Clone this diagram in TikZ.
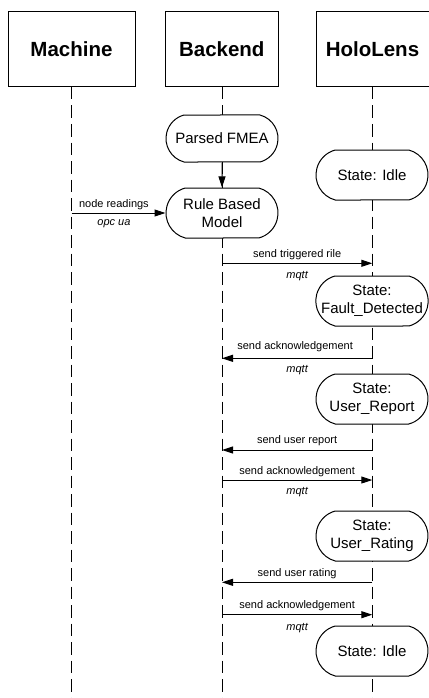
\documentclass[tikz,border=0pt]{standalone}
\usepackage{fontspec}
\setmainfont{Liberation Sans}
\usetikzlibrary{arrows.meta,shapes.misc}
\tikzset{
  hdr/.style={draw, line width=1pt, fill=white, minimum width=#1, minimum height=75pt, inner sep=0pt, font=\fontsize{20.5}{24}\selectfont\bfseries},
  st/.style={draw, line width=1pt, fill=white, rounded rectangle, rounded rectangle arc length=150, minimum width=112pt, minimum height=#1, inner sep=0pt, align=center, font=\fontsize{15}{18}\selectfont},
  life/.style={line width=1pt, dash pattern=on 12.5pt off 6pt},
  msg/.style={line width=1pt, -{Triangle[length=11pt,width=7pt]}},
  lbl/.style={font=\fontsize{11}{13}\selectfont, inner sep=0pt},
  lbli/.style={font=\fontsize{11}{13}\selectfont\itshape, inner sep=0pt}
}
\begin{document}
\begin{tikzpicture}[x=1pt,y=-1pt]
\useasboundingbox (0,0) rectangle (428,698);
% headers
\node[hdr=127pt] (mach) at (71.5,49.5) {Machine};
\node[hdr=113pt] (back) at (221.8,49.5) {Backend};
\node[hdr=118pt, anchor=west] (holo) at (315.7,49.5) {\hspace*{-5.5pt}HoloLens};
% lifeline ends
\coordinate (machEnd) at (71.7,700);
\coordinate (backEnd) at (222,700);
\coordinate (holoEnd) at (372.3,700);
\draw[life] (71.7,87) -- (machEnd);
\draw[life] (222,87) -- (backEnd);
\draw[life] (372.3,87) -- (holoEnd);
% nodes
\node[st=47pt] (fmea) at (222,138.5) {Parsed FMEA};
\node[st=50pt] (rule) at (222,213) {Rule Based\\Model};
\node[st=50pt] (idle1) at (372,175) {State: Idle};
\node[st=50pt] (fault) at (372,301) {State:\\Fault\_Detected};
\node[st=50pt] (urep) at (372,399) {State:\\User\_Report};
\node[st=50pt] (urat) at (372,536) {State:\\User\_Rating};
\node[st=50pt] (idle2) at (372,651) {State: Idle};
\draw[msg] (fmea) -- (rule);
% message coordinates
\coordinate (m1a) at (71.7,213);
\coordinate (m2a) at (222,263.3);  \coordinate (m2b) at (372.3,263.3);
\coordinate (m3a) at (222,358.3);  \coordinate (m3b) at (372.3,358.3);
\coordinate (m4a) at (222,450);    \coordinate (m4b) at (372.3,450);
\coordinate (m5a) at (222,480);    \coordinate (m5b) at (372.3,480);
\coordinate (m6a) at (222,582.3);  \coordinate (m6b) at (372.3,582.3);
\coordinate (m7a) at (222,614.7);  \coordinate (m7b) at (372.3,614.7);
\draw[msg] (m1a) -- (rule.west)
  node[lbl, pos=0.45, yshift=8.3pt] {node readings}
  node[lbli, pos=0.45, yshift=-10.5pt] {opc ua};
\draw[msg] (m2a) -- (m2b)
  node[lbl, midway, yshift=8.6pt] {send triggered rile}
  node[lbli, midway, yshift=-12.4pt] {mqtt};
\draw[msg] (m3b) -- (m3a)
  node[lbl, midway, xshift=-2pt, yshift=11.6pt] {send acknowledgement}
  node[lbli, midway, yshift=-11.7pt] {mqtt};
\draw[msg] (m4b) -- (m4a)
  node[lbl, midway, yshift=9pt] {send user report};
\draw[msg] (m5a) -- (m5b)
  node[lbl, midway, yshift=8.5pt] {send acknowledgement}
  node[lbli, midway, yshift=-12pt] {mqtt};
\draw[msg] (m6b) -- (m6a)
  node[lbl, midway, yshift=8.2pt] {send user rating};
\draw[msg] (m7a) -- (m7b)
  node[lbl, midway, yshift=8.6pt] {send acknowledgement}
  node[lbli, midway, yshift=-13pt] {mqtt};
\end{tikzpicture}
\end{document}
